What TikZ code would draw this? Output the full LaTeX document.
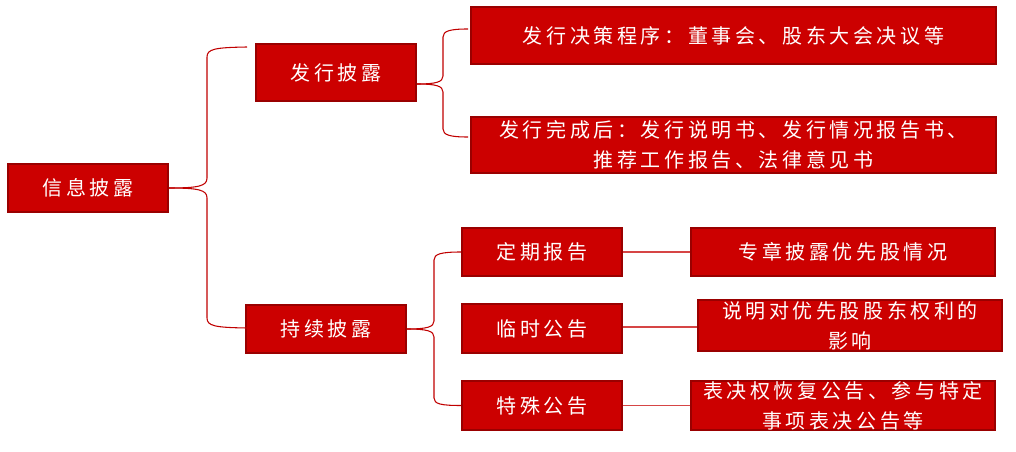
\documentclass[tikz,border=0pt]{standalone}
\usepackage{fontspec}
\setmainfont[LetterSpace=18]{Noto Sans CJK SC}
\usetikzlibrary{calc}
\definecolor{BoxRed}{HTML}{CC0000}
\definecolor{BoxEdge}{HTML}{9A0000}
\definecolor{Brace}{HTML}{C00000}
\definecolor{Link}{HTML}{D64545}
\tikzset{
  box/.style={
    draw=BoxEdge, line width=1.2pt, fill=BoxRed, text=white,
    inner sep=2pt, align=center, font=\fontsize{15pt}{22.5pt}\selectfont
  },
  twoline/.style={inner ysep=0pt},
  brace/.style={draw=Brace, line width=0.8pt},
  link/.style={draw=Link, line width=1.1pt}
}

\begin{document}
\begin{tikzpicture}[x=0.75pt,y=-0.75pt]
    \useasboundingbox (0,0) rectangle (1016,452);
    % first level
    \node[box,minimum width=120pt,minimum height=36pt] (root) at (88,188) {信息披露};
    % second level
    \node[box,minimum width=120pt,minimum height=42.75pt] (fxpl) at (336,72.5) {发行披露};
    \node[box,minimum width=120pt,minimum height=36pt] (cxpl) at (326,329) {持续披露};
    % issue disclosure
    \node[box,minimum width=393.75pt,minimum height=42.75pt] (jc) at (733.5,35.5) {发行决策程序：董事会、股东大会决议等};
    \node[box,twoline,minimum width=393.75pt,minimum height=42pt] (wc) at (733.5,145) {发行完成后：发行说明书、发行情况报告书、\\推荐工作报告、法律意见书};
    % continuous disclosure
    \node[box,minimum width=120pt,minimum height=36pt] (dq) at (542,252) {定期报告};
    \node[box,minimum width=120pt,minimum height=36.75pt] (ls) at (542,328.5) {临时公告};
    \node[box,minimum width=120pt,minimum height=36.75pt] (ts) at (542,405.5) {特殊公告};
    \node[box,minimum width=228pt,minimum height=36pt] (zz) at (843,252) {专章披露优先股情况};
    \node[box,twoline,minimum width=228pt,minimum height=38.25pt] (sm) at (850,325.5) {说明对优先股股东权利的\\影响};
    \node[box,twoline,minimum width=228pt,minimum height=36.75pt] (bj) at (843,405.5) {表决权恢复公告、参与特定\\事项表决公告等};
    % braces
    \coordinate (b1t) at (247,47);
    \coordinate (b1b) at (247,328);
    \draw[brace] (root.east) .. controls (199,188) and (207,186) .. (207,178) -- (207,57)
      .. controls (207,49) and (215,47.5) .. (b1t);
    \draw[brace] (root.east) .. controls (199,188) and (207,190) .. (207,198) -- (207,318)
      .. controls (207,326) and (215,327.5) .. (b1b);
    \coordinate (b2m) at (417,84);
    \coordinate (b2t) at (468,29);
    \coordinate (b2b) at (468,137);
    \draw[brace] (b2m) .. controls (436,84) and (443,82) .. (443,76) -- (443,37)
      .. controls (443,31) and (450,29) .. (b2t);
    \draw[brace] (b2m) .. controls (436,84) and (443,86) .. (443,92) -- (443,129)
      .. controls (443,135) and (450,137) .. (b2b);
    \draw[brace] (cxpl.east) .. controls (427,329) and (434,327) .. (434,321) -- (434,260)
      .. controls (434,254) and (441,252) .. (dq.west);
    \draw[brace] (cxpl.east) .. controls (427,329) and (434,331) .. (434,337) -- (434,398)
      .. controls (434,404) and (441,405.5) .. (ts.west);
    % links
    \draw[link] (dq.east) -- (zz.west);
    \draw[link] (ls.east |- 0,327) -- (sm.west |- 0,327);
    \draw[link] (ts.east) -- (bj.west);
  \end{tikzpicture}
\end{document}
